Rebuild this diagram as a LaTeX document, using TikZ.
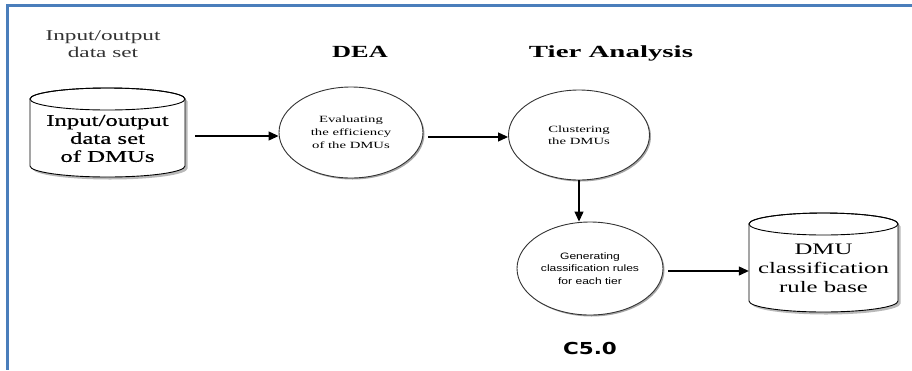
\documentclass[tikz,border=0pt]{standalone}
\usepackage{fontspec}
\setmainfont{Liberation Serif}
\newfontfamily\serifS[FakeStretch=1.55]{Liberation Serif}
\newfontfamily\serifD[FakeStretch=1.5,FakeBold=0.5]{Liberation Serif}
\newfontfamily\serifW[FakeStretch=1.7]{Liberation Serif}
\newfontfamily\sansS[FakeStretch=1.3]{Liberation Sans}
\newfontfamily\cfiveF[FakeStretch=1.3]{DejaVu Sans}
\usetikzlibrary{arrows.meta,shapes.geometric,shadows}
\definecolor{frameblue}{HTML}{4A7EBB}
\newcommand{\dbshape}[5]{% cx rx ytopcenter ybottomcenter ry
  \begin{scope}[shift={(2.5,-2.5)}]
    \fill[gray!55] (#1-#2,#3) -- (#1-#2,#4) arc[start angle=180,end angle=360,x radius=#2,y radius=#5] -- (#1+#2,#3) arc[start angle=0,end angle=180,x radius=#2,y radius=#5] -- cycle;
  \end{scope}
  \filldraw[fill=white,draw=black,line width=0.9pt] (#1-#2,#3) -- (#1-#2,#4) arc[start angle=180,end angle=360,x radius=#2,y radius=#5] -- (#1+#2,#3) arc[start angle=0,end angle=180,x radius=#2,y radius=#5] -- cycle;
  \draw[line width=0.9pt] (#1,#3) ellipse[x radius=#2,y radius=#5];
}
\begin{document}
\begin{tikzpicture}[x=1pt,y=1pt,
  arr/.style={-{Triangle[length=10pt,width=9pt]},line width=1.1pt,draw=black},
  proc/.style={ellipse,draw=black!80,line width=0.9pt,fill=white,inner sep=0pt,align=center,
    drop shadow={shadow xshift=1.5pt,shadow yshift=-1.5pt,fill=gray,opacity=0.7}},
  dbtext/.style={align=center,inner sep=0pt},
  heading/.style={align=center,inner sep=0pt}
]
\useasboundingbox (0,0) rectangle (912,-370);
\draw[frameblue,line width=2.2pt] (912,-5.5) -- (7.5,-5.5) -- (7.5,-370);

% headings
\node[heading,text=black!80,font={\serifS\fontsize{15}{17.5}\selectfont}] (iotitle) at (103,-44) {Input/output\\data set};
\node[heading,font={\serifS\bfseries\fontsize{17}{20}\selectfont}] (dea) at (360,-51.5) {DEA};
\node[heading,font={\serifW\bfseries\fontsize{17}{20}\selectfont}] (tier) at (611,-53) {Tier Analysis};
\node[heading,font={\cfiveF\bfseries\fontsize{16.5}{18}\selectfont}] (c50) at (590,-348) {C5.0};

% data stores
\dbshape{107.5}{77.5}{-99}{-166}{11}
\node[dbtext,minimum width=155pt,font={\serifD\fontsize{16.5}{18}\selectfont}] (db1) at (107.5,-138.5) {Input/output\\data set\\of DMUs};
\dbshape{823.5}{74.5}{-224}{-301}{11}
\node[dbtext,minimum width=149pt,font={\serifS\fontsize{16}{19}\selectfont}] (db2) at (823.5,-268) {DMU\\classification\\rule base};

% processes
\node[proc,minimum width=144pt,minimum height=91pt,font={\serifS\fontsize{9.5}{13}\selectfont}] (c1) at (351,-132.5) {Evaluating\\the efficiency\\of the DMUs};
\node[proc,minimum width=141pt,minimum height=90pt,font={\serifS\fontsize{9.5}{12.5}\selectfont}] (c2) at (579,-135) {Clustering\\the DMUs};
\node[proc,minimum width=146pt,minimum height=93pt,font={\sansS\fontsize{9.3}{12.5}\selectfont}] (c3) at (590,-268.5) {Generating\\classification rules\\for each tier};

% connectors
\draw[arr] ([xshift=10pt,yshift=2.5pt]db1.east) -- ([yshift=-3.5pt]c1.west);
\draw[arr] ([xshift=5pt,yshift=-4.5pt]c1.east) -- ([yshift=-2pt]c2.west);
\draw[arr] (c2.south) -- (c2.south |- c3.north);
\draw[arr] ([xshift=5pt,yshift=-2.5pt]c3.east) -- ([yshift=-3pt]db2.west);
\end{tikzpicture}
\end{document}
